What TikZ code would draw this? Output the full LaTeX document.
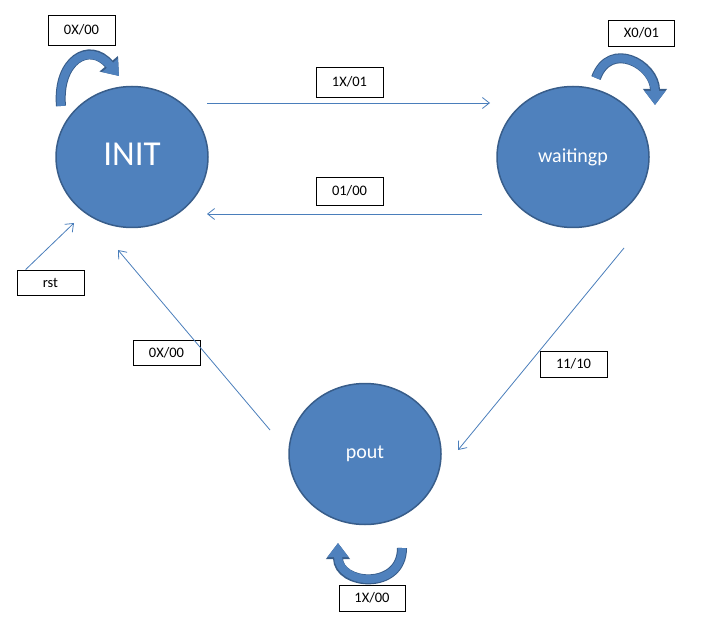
\documentclass[tikz,border=0pt]{standalone}
\usepackage{fontspec}
\setmainfont{Carlito}
\usetikzlibrary{shapes.geometric,arrows.meta,positioning,calc}
\definecolor{stateblue}{HTML}{4F81BD}
\definecolor{stateedge}{HTML}{385D8A}
\definecolor{linkblue}{HTML}{4A7EBB}

\begin{document}
\begin{tikzpicture}[x=1pt, y=1pt,
    state/.style={ellipse, draw=stateedge, line width=1.5pt, fill=stateblue, text=white,
        minimum width=152pt, minimum height=141pt, inner sep=0pt, font=\fontsize{20}{24}\selectfont},
    lbl/.style={rectangle, draw, line width=0.8pt, fill=white, minimum width=66pt,
        minimum height=26pt, inner sep=0pt, font=\fontsize{14.5}{17}\selectfont},
    arrow/.style={-{Straight Barb[length=7pt,width=11pt]}, draw=linkblue, line width=0.8pt},
    loopout/.style={draw=stateedge, line width=10pt, -{Triangle[length=16pt,width=23pt]}},
    loopin/.style={draw=stateblue, line width=8pt, -{Triangle[length=14pt,width=20pt]}}
]
\useasboundingbox (0,0) rectangle (703,638);

% States
\node[state, font=\fontsize{35}{40}\selectfont] (init) at (132,481) {\raisebox{5pt}{INIT}};
\node[state] (waitingp) at (573,481) {\raisebox{3pt}{waitingp}};
\node[state] (pout) at (365,184) {pout};

% Transition labels
\node[lbl, minimum width=67pt, minimum height=30pt] (lidle) at (81.5,608) {0X/00};
\node[lbl] (lwait) at (641.5,605) {X0/01};
\node[lbl, minimum width=67pt, minimum height=30pt] (lgo) at (349.5,556) {1X/01};
\node[lbl, minimum width=67pt, minimum height=28pt] (lback) at (349.5,447) {01/00};
\node[lbl, minimum width=67pt, minimum height=25pt] (lrst) at (50.5,355.5) {rst};
\node[lbl, minimum width=67pt, minimum height=25pt] (lret) at (166.5,285.5) {0X/00};
\node[lbl, minimum width=67pt] (lout) at (573.5,274) {11/10};
\node[lbl] (lstay) at (372,40) {1X/00};

% Arrow ends
\coordinate (goS) at (207,535);
\coordinate (goE) at (490,535);
\coordinate (backS) at (482,424);
\coordinate (backE) at (207,424);
\coordinate (rstE) at (74,415);
\coordinate (retS) at (270,208);
\coordinate (retE) at (118,388);
\coordinate (outS) at (624,390);
\coordinate (outE) at (458,188);

% Transitions
\draw[arrow] (goS) -- (goE);
\draw[arrow] (backS) -- (backE);
\draw[arrow] ($(lrst.north west)+(9,0)$) -- (rstE);
\draw[arrow] (retS) -- (retE);
\draw[arrow] (outS) -- (outE);

% Self loops
\coordinate (initT) at (61,532);
\coordinate (initH) at (119,562);
\coordinate (waitT) at (596,560);
\coordinate (waitH) at (655,533);
\coordinate (poutT) at (402,90);
\coordinate (poutH) at (338,95);
\draw[loopout, postaction={loopin}] (initT) to[out=95, in=130, looseness=1.8] (initH);
\draw[loopout, postaction={loopin}] (waitT) to[out=70, in=90, looseness=1.6] (waitH);
\draw[loopout, postaction={loopin}] (poutT) to[out=-90, in=-90, looseness=1.7] (poutH);
\end{tikzpicture}
\end{document}
